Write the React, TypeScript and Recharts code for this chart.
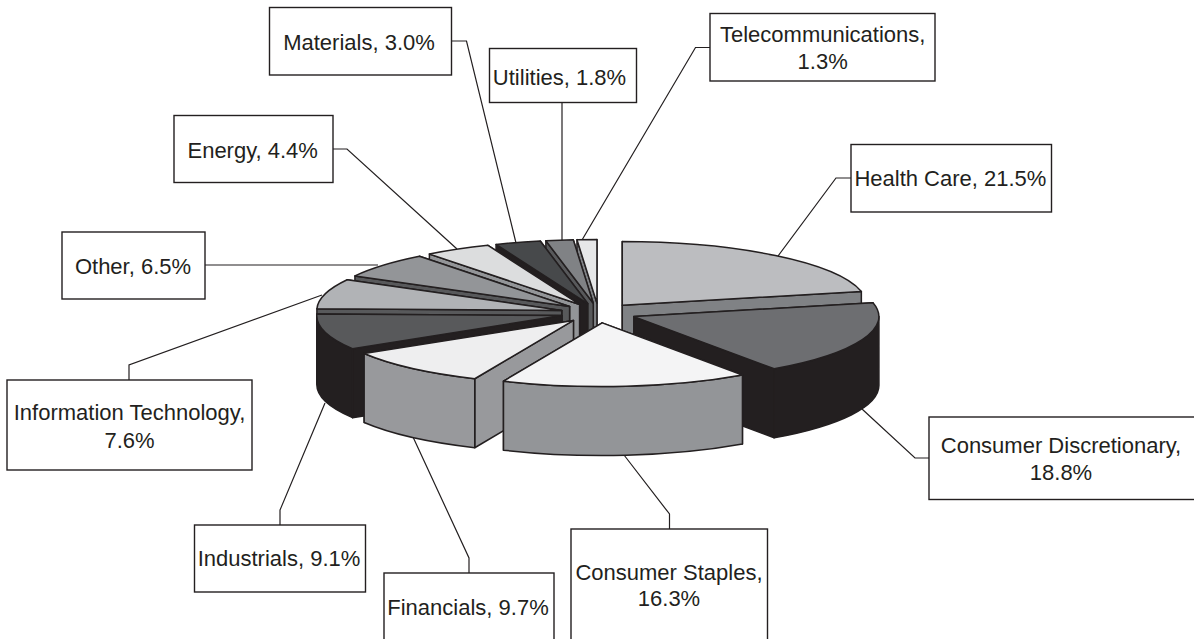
import React from "react";
import { PieChart, Pie } from "recharts";

// clockwise from twelve o'clock
const CATEGORIES = [
  "Health Care",
  "Consumer Discretionary",
  "Consumer Staples",
  "Financials",
  "Industrials",
  "Information Technology",
  "Other",
  "Energy",
  "Materials",
  "Utilities",
  "Telecommunications",
];
const VALUES = [21.5, 18.8, 16.3, 9.7, 9.1, 7.6, 6.5, 4.4, 3.0, 1.8, 1.3];

const TOP_COLORS = [
  "#bcbdc0", "#6d6e71", "#f4f4f5", "#eeeeef", "#58595b", "#b1b3b6",
  "#939598", "#dcddde", "#47494b", "#808285", "#e6e7e8",
];
const WALL_COLORS = [
  "#808285", "#231f20", "#939598", "#98999c", "#231f20", "#58595b",
  "#58595b", "#939598", "#231f20", "#58595b", "#808285",
];

// these three sit in front and are painted last, the rest back to front
const FRONT = ["Health Care", "Consumer Discretionary", "Consumer Staples"];

const INK = "#231f20";
const SQUASH = 0.26;
const DEPTH = 69;
const EXPLODE = 38;

const forward = CATEGORIES.map((name, i) => ({
  name,
  value: VALUES[i],
  top: TOP_COLORS[i],
  wall: WALL_COLORS[i],
}));
const reversed = [...forward].reverse();

// annotation boxes, same order as CATEGORIES: [x, y, w, h, text x, text lines' y, leader points]
const CALLOUTS: [number, number, number, number, number, number[], number[][]][] = [
  [851, 144.5, 200.5, 67.5, 950.4, [178], [[851, 178], [836, 178], [778, 256]]],
  [929, 417, 290, 82.5, 1061, [445, 472], [[929, 458], [915, 458], [862, 409]]],
  [571, 529, 196.5, 125, 669, [572, 598], [[669.5, 529], [669.5, 514], [624, 455]]],
  [384, 573, 170, 80, 468, [607], [[469, 573], [469, 558], [413, 437]]],
  [194.5, 525, 171, 67, 279, [558], [[280, 525], [280, 510], [325, 403]]],
  [7, 380, 245, 90, 129.5, [412, 440], [[129, 380], [129, 365], [322, 295]]],
  [62, 232, 143, 67, 133, [266], [[205, 265], [378, 265]]],
  [174, 115.5, 159, 67, 252.7, [150], [[333, 149], [347, 149], [457, 249]]],
  [269.5, 7.5, 182, 67.5, 359, [42], [[451.5, 41], [466.5, 41], [516, 243]]],
  [489.5, 48.5, 147, 54, 559.5, [77], [[562, 102.5], [562, 241]]],
  [710, 13.5, 225, 67.5, 822.7, [34, 61], [[710, 47.5], [695.5, 47.5], [582, 240]]],
];

const SlabSector = (props: any) => {
  const { cx, cy, outerRadius, startAngle, endAngle, midAngle, payload } = props;
  const row = payload && payload.name ? payload : props;
  const drawnHere = props.front === FRONT.includes(row.name);
  if (!drawnHere) return null;

  const rad = (d: number) => (d * Math.PI) / 180;
  const rx = outerRadius;
  const ry = outerRadius * SQUASH;
  const ox = cx + EXPLODE * Math.cos(rad(midAngle));
  const oy = cy - EXPLODE * SQUASH * Math.sin(rad(midAngle));
  const at = (d: number) => [ox + rx * Math.cos(rad(d)), oy - ry * Math.sin(rad(d))];

  const a0 = Math.min(startAngle, endAngle);
  const a1 = Math.max(startAngle, endAngle);
  const p0 = at(a0);
  const p1 = at(a1);

  const face = (p: number[]) =>
    `M${ox},${oy} L${p[0]},${p[1]} L${p[0]},${p[1] + DEPTH} L${ox},${oy + DEPTH} Z`;
  const faces = p0[1] < p1[1] ? [p0, p1] : [p1, p0];

  // outer rim only shows on the near half of the ellipse
  const rims: string[] = [];
  [-360, 0, 360].forEach((k) => {
    const lo = Math.max(a0, 180 + k);
    const hi = Math.min(a1, 360 + k);
    if (hi > lo) {
      const a = at(lo);
      const b = at(hi);
      rims.push(
        `M${a[0]},${a[1]} A${rx},${ry} 0 0 0 ${b[0]},${b[1]} L${b[0]},${b[1] + DEPTH} ` +
          `A${rx},${ry} 0 0 1 ${a[0]},${a[1] + DEPTH} Z`
      );
    }
  });

  const topPath = `M${ox},${oy} L${p0[0]},${p0[1]} A${rx},${ry} 0 0 0 ${p1[0]},${p1[1]} Z`;
  const common = { stroke: INK, strokeWidth: 1.5, strokeLinejoin: "round" as const };

  return (
    <g>
      {faces.map((p, i) => (
        <path key={i} d={face(p)} fill={row.wall} {...common} />
      ))}
      {rims.map((d, i) => (
        <path key={i} d={d} fill={row.wall} {...common} />
      ))}
      <path d={topPath} fill={row.top} {...common} />
    </g>
  );
};

const Callouts = () => (
  <g>
    {CATEGORIES.map((name, i) => {
      const [x, y, w, h, textX, lineYs, leader] = CALLOUTS[i];
      const pct = `${VALUES[i].toFixed(1)}%`;
      const lines = lineYs.length > 1 ? [`${name},`, pct] : [`${name}, ${pct}`];
      return (
        <g key={name}>
          <polyline
            points={leader.map((p) => p.join(",")).join(" ")}
            fill="none"
            stroke={INK}
            strokeWidth={1.2}
          />
          <rect x={x} y={y} width={w} height={h} fill="#fff" stroke={INK} strokeWidth={1.4} />
          {lines.map((t, j) => (
            <text
              key={j}
              x={textX}
              y={lineYs[j]}
              textAnchor="middle"
              dominantBaseline="central"
              fontFamily="'Liberation Sans', Arial, sans-serif"
              fontSize={22}
              fill={INK}
            >
              {t}
            </text>
          ))}
        </g>
      );
    })}
  </g>
);

export default function App() {
  return (
    <div style={{ position: "absolute", left: 0, top: 0, width: 1194, height: 639, background: "#fff" }}>
      <PieChart width={1194} height={639} margin={{ top: 0, right: 0, bottom: 0, left: 0 }}>
        <Callouts />
        <Pie
          data={reversed}
          dataKey="value"
          nameKey="name"
          cx={598.5}
          cy={313}
          outerRadius={245}
          startAngle={90}
          endAngle={450}
          label={false}
          isAnimationActive={false}
          shape={(p: any) => <SlabSector {...p} front={false} />}
        />
        <Pie
          data={forward}
          dataKey="value"
          nameKey="name"
          cx={598.5}
          cy={313}
          outerRadius={245}
          startAngle={90}
          endAngle={-270}
          label={false}
          isAnimationActive={false}
          shape={(p: any) => <SlabSector {...p} front={true} />}
        />
      </PieChart>
    </div>
  );
}
